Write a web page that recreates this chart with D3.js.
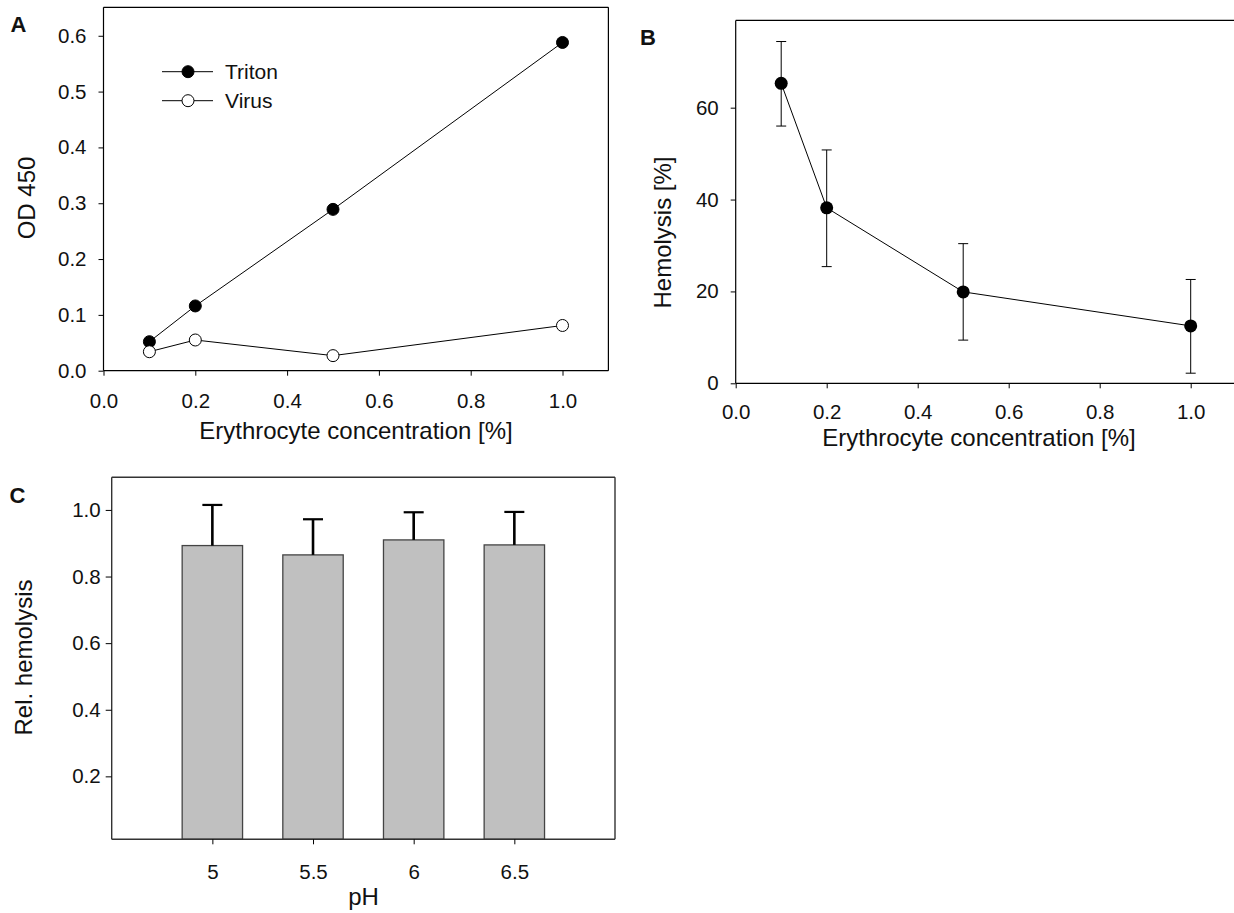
<!DOCTYPE html>
<html><head><meta charset="utf-8">
<script src="https://cdn.jsdelivr.net/npm/d3@7"></script>
<style>
html,body{margin:0;padding:0;background:#fff;}
svg{display:block;}
text{font-family:"Liberation Sans",Arial,sans-serif;fill:#111;}
</style></head>
<body>
<svg id="chart" width="1234" height="913"></svg>
<script>
// ---- Panel A data ----
const concA = [0.1, 0.2, 0.5, 1.0];
const tritonOD = [0.052, 0.116, 0.289, 0.588];
const virusOD = [0.034, 0.055, 0.027, 0.081];
const ticksAX = [0, 0.2, 0.4, 0.6, 0.8, 1.0];
const ticksAY = [0, 0.1, 0.2, 0.3, 0.4, 0.5, 0.6];
const legendA = ["Triton", "Virus"];

// ---- Panel B data ----
const concB = [0.1, 0.2, 0.5, 1.0];
const hemolysis = [65.3, 38.2, 19.9, 12.5];
const hemolysisLow = [56.0, 25.4, 9.4, 2.2];
const hemolysisHigh = [74.4, 50.8, 30.4, 22.6];
const ticksBX = [0, 0.2, 0.4, 0.6, 0.8, 1.0];
const ticksBY = [0, 20, 40, 60];

// ---- Panel C data ----
const pH = [5, 5.5, 6, 6.5];
const pHLabels = ["5", "5.5", "6", "6.5"];
const relHemolysis = [0.893, 0.865, 0.910, 0.895];
const relHemolysisErr = [0.122, 0.107, 0.083, 0.099];
const ticksCY = [0.2, 0.4, 0.6, 0.8, 1.0];

const svg = d3.select("#chart");
const TICK_FS = 20.5, TITLE_FS = 24;

function styleAxis(g, fs) {
  g.selectAll("path.domain").remove();
  g.selectAll("line").attr("stroke", "#000").attr("stroke-width", 1);
  g.selectAll("text").attr("font-size", fs).attr("font-family", '"Liberation Sans",Arial,sans-serif').attr("fill", "#111");
}
function frame(x0, y0, x1, y1, sides, color, w) {
  const g = svg.append("g").attr("fill", "none").attr("stroke", color || "#000").attr("stroke-width", w || 1.2);
  if (sides.includes("l")) g.append("line").attr("x1", x0).attr("x2", x0).attr("y1", y0).attr("y2", y1);
  if (sides.includes("r")) g.append("line").attr("x1", x1).attr("x2", x1).attr("y1", y0).attr("y2", y1);
  if (sides.includes("t")) g.append("line").attr("x1", x0).attr("x2", x1).attr("y1", y0).attr("y2", y0);
  if (sides.includes("b")) g.append("line").attr("x1", x0).attr("x2", x1).attr("y1", y1).attr("y2", y1);
}
function panelLetter(t, x, y) {
  svg.append("text").attr("x", x).attr("y", y).attr("text-anchor", "middle")
    .attr("font-size", 22).attr("font-weight", "bold").attr("fill", "#000").text(t);
}
function yTitle(t, x, y) {
  svg.append("text").attr("transform", `translate(${x},${y}) rotate(-90)`).attr("text-anchor", "middle")
    .attr("dy", "0.35em").attr("font-size", TITLE_FS).attr("fill", "#222").text(t);
}
function xTitle(t, x, y) {
  svg.append("text").attr("x", x).attr("y", y).attr("text-anchor", "middle")
    .attr("font-size", TITLE_FS).attr("fill", "#222").text(t);
}

// ================= Panel A =================
{
  const x = d3.scaleLinear().domain([0, 1.1]).range([103.5, 608.4]);
  const y = d3.scaleLinear().domain([0, 0.651]).range([370.7, 7.3]);
  frame(x(0), y(0.651), x(1.1), y(0), "lrtb");
  const gx = svg.append("g").attr("transform", `translate(0,${y(0)})`)
    .call(d3.axisBottom(x).tickValues(ticksAX).tickFormat(d3.format(".1f")).tickSize(5).tickSizeOuter(0).tickPadding(18));
  styleAxis(gx, TICK_FS);
  const gy = svg.append("g").attr("transform", `translate(${x(0)},0)`)
    .call(d3.axisLeft(y).tickValues(ticksAY).tickFormat(d3.format(".1f")).tickSize(5).tickSizeOuter(0).tickPadding(12));
  styleAxis(gy, TICK_FS);

  const line = d3.line().x((d, i) => x(concA[i])).y(d => y(d));
  svg.append("path").datum(tritonOD).attr("d", line).attr("fill", "none").attr("stroke", "#000").attr("stroke-width", 1);
  svg.append("path").datum(virusOD).attr("d", line).attr("fill", "none").attr("stroke", "#000").attr("stroke-width", 1);
  svg.selectAll(".ptT").data(tritonOD).enter().append("circle")
    .attr("cx", (d, i) => x(concA[i])).attr("cy", d => y(d)).attr("r", 6)
    .attr("fill", "#000").attr("stroke", "#000");
  svg.selectAll(".ptV").data(virusOD).enter().append("circle")
    .attr("cx", (d, i) => x(concA[i])).attr("cy", d => y(d)).attr("r", 6)
    .attr("fill", "#fff").attr("stroke", "#000").attr("stroke-width", 1);

  // legend
  const ly = [71.7, 100.7];
  legendA.forEach((name, i) => {
    svg.append("line").attr("x1", 162).attr("x2", 213).attr("y1", ly[i]).attr("y2", ly[i]).attr("stroke", "#000");
    svg.append("circle").attr("cx", 188).attr("cy", ly[i]).attr("r", 6)
      .attr("fill", i === 0 ? "#000" : "#fff").attr("stroke", "#000");
    svg.append("text").attr("x", 225).attr("y", ly[i]).attr("dy", "0.36em").attr("font-size", 21).attr("fill", "#111").text(name);
  });

  panelLetter("A", 18.5, 32);
  yTitle("OD 450", 26.7, 198);
  xTitle("Erythrocyte concentration [%]", 356, 439);
}

// ================= Panel B =================
{
  const x = d3.scaleLinear().domain([0, 1.1]).range([735.7, 1236.2]);
  const y = d3.scaleLinear().domain([0, 79]).range([383.3, 20.4]);
  frame(x(0), y(79), x(1.1), y(0), "lrtb");
  const gx = svg.append("g").attr("transform", `translate(0,${y(0)})`)
    .call(d3.axisBottom(x).tickValues(ticksBX).tickFormat(d3.format(".1f")).tickSize(5).tickSizeOuter(0).tickPadding(16));
  styleAxis(gx, TICK_FS);
  const gy = svg.append("g").attr("transform", `translate(${x(0)},0)`)
    .call(d3.axisLeft(y).tickValues(ticksBY).tickFormat(d3.format("d")).tickSize(5).tickSizeOuter(0).tickPadding(12));
  styleAxis(gy, TICK_FS);

  const eb = svg.append("g").attr("stroke", "#000").attr("stroke-width", 1);
  concB.forEach((c, i) => {
    eb.append("line").attr("x1", x(c)).attr("x2", x(c)).attr("y1", y(hemolysisLow[i])).attr("y2", y(hemolysisHigh[i]));
    eb.append("line").attr("x1", x(c) - 5).attr("x2", x(c) + 5).attr("y1", y(hemolysisLow[i])).attr("y2", y(hemolysisLow[i]));
    eb.append("line").attr("x1", x(c) - 5).attr("x2", x(c) + 5).attr("y1", y(hemolysisHigh[i])).attr("y2", y(hemolysisHigh[i]));
  });
  const line = d3.line().x((d, i) => x(concB[i])).y(d => y(d));
  svg.append("path").datum(hemolysis).attr("d", line).attr("fill", "none").attr("stroke", "#000").attr("stroke-width", 1);
  svg.selectAll(".ptB").data(hemolysis).enter().append("circle")
    .attr("cx", (d, i) => x(concB[i])).attr("cy", d => y(d)).attr("r", 6.5).attr("fill", "#000");

  panelLetter("B", 648, 45);
  yTitle("Hemolysis [%]", 662.7, 232.5);
  xTitle("Erythrocyte concentration [%]", 979, 446);
}

// ================= Panel C =================
{
  const x = d3.scaleLinear().domain([4.5, 7.0]).range([111.7, 615]);
  const y = d3.scaleLinear().domain([0.011, 1.098]).range([839.3, 477.3]);
  const barW = 0.30;
  svg.selectAll(".bar").data(relHemolysis).enter().append("rect")
    .attr("x", (d, i) => x(pH[i] - barW / 2)).attr("width", (d, i) => x(pH[i] + barW / 2) - x(pH[i] - barW / 2))
    .attr("y", d => y(d)).attr("height", d => y(0.011) - y(d))
    .attr("fill", "#c0c0c0").attr("stroke", "#444").attr("stroke-width", 1.3);
  const eb = svg.append("g").attr("stroke", "#000");
  pH.forEach((p, i) => {
    const top = relHemolysis[i] + relHemolysisErr[i];
    eb.append("line").attr("x1", x(p)).attr("x2", x(p)).attr("y1", y(relHemolysis[i])).attr("y2", y(top)).attr("stroke-width", 2.6);
    eb.append("line").attr("x1", x(p) - 10).attr("x2", x(p) + 10).attr("y1", y(top)).attr("y2", y(top)).attr("stroke-width", 2.2);
  });
  frame(x(4.5), y(1.098), x(7.0), y(0.011), "lrtb", "#333", 1.4);
  const gx = svg.append("g").attr("transform", `translate(0,${y(0.011)})`)
    .call(d3.axisBottom(x).tickValues(pH).tickFormat((d, i) => pHLabels[i]).tickSize(5).tickSizeOuter(0).tickPadding(20));
  styleAxis(gx, TICK_FS);
  const gy = svg.append("g").attr("transform", `translate(${x(4.5)},0)`)
    .call(d3.axisLeft(y).tickValues(ticksCY).tickFormat(d3.format(".1f")).tickSize(6).tickSizeOuter(0).tickPadding(5));
  styleAxis(gy, TICK_FS);

  panelLetter("C", 17.5, 503);
  yTitle("Rel. hemolysis", 23.5, 657.5);
  xTitle("pH", 363.5, 905);
}
</script>
</body></html>
